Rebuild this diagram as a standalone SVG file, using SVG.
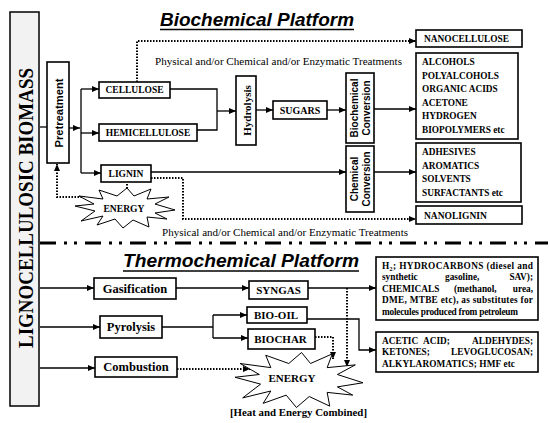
<svg xmlns="http://www.w3.org/2000/svg" width="550" height="423" viewBox="0 0 550 423">
<defs>
<style>
.box{fill:#fff;stroke:#000;stroke-width:1.6}
.t{font-family:'Liberation Serif','Times New Roman',serif;font-weight:bold;fill:#000}
.r{font-family:'Liberation Serif','Times New Roman',serif;font-weight:normal;fill:#000}
.s{font-family:'Liberation Sans',Arial,sans-serif;font-weight:bold;fill:#000}
.ttl{font-family:'Liberation Sans',Arial,sans-serif;font-weight:bold;font-style:italic;font-size:19px;fill:#000}
.ln{fill:none;stroke:#000;stroke-width:1.3}
.dt{fill:none;stroke:#000;stroke-width:2;stroke-dasharray:1.5 1.5}
.c{text-anchor:middle}
.e{text-anchor:end}
</style>
<marker id="arr" markerUnits="userSpaceOnUse" markerWidth="7" markerHeight="6" viewBox="0 0 7 6" refX="7" refY="3" orient="auto">
<path d="M0,0 L7,3 L0,6 z" fill="#000"/>
</marker>
<polygon id="burst" vector-effect="non-scaling-stroke" fill="#fff" stroke="#000" stroke-width="1" points="50,2 30,5 42,11 22,9 24,19 8,12 -2,20 -10,11 -28,17 -22,8 -44,13 -30,3 -50,-2 -31,-4 -46,-12 -22,-9 -26,-18 -8,-12 2,-20 9,-12 26,-19 22,-9 44,-11 30,-4"/>
</defs>
<rect width="550" height="423" fill="#fff"/>

<!-- titles -->
<g id="title-bio">
<text class="ttl" x="160" y="25.7" textLength="194" lengthAdjust="spacingAndGlyphs">Biochemical Platform</text>
<line x1="160" y1="29.5" x2="354" y2="29.5" stroke="#000" stroke-width="1.5"/>
</g>
<g id="title-thermo">
<text class="ttl" x="123" y="267" textLength="236" lengthAdjust="spacingAndGlyphs">Thermochemical Platform</text>
<line x1="123" y1="271" x2="359" y2="271" stroke="#000" stroke-width="1.5"/>
</g>

<!-- connectors -->
<g id="connectors">
<path class="ln" d="M40,127 H47"/>
<path class="ln" d="M69,128 H80" marker-end="url(#arr)"/>
<path class="ln" d="M81,89 V173"/>
<path class="ln" d="M81,89 H99" marker-end="url(#arr)"/>
<path class="ln" d="M81,133 H99" marker-end="url(#arr)"/>
<path class="ln" d="M81,173 H101" marker-end="url(#arr)"/>
<path class="ln" d="M170,89 H217 V130 H197"/>
<path class="ln" d="M217,111 H236" marker-end="url(#arr)"/>
<path class="ln" d="M256,110 H273" marker-end="url(#arr)"/>
<path class="ln" d="M327,110 H346" marker-end="url(#arr)"/>
<path class="ln" d="M374,109 H416" marker-end="url(#arr)"/>
<path class="ln" d="M151,172 H346" marker-end="url(#arr)"/>
<path class="ln" d="M374,172 H416" marker-end="url(#arr)"/>
<path class="dt" d="M137,82 V41 H416" marker-end="url(#arr)"/>
<path class="dt" d="M151,178 H183 V219 H416" marker-end="url(#arr)"/>
<path class="dt" d="M127,184 V200" marker-end="url(#arr)"/>
<path class="dt" d="M85,197 H57 V164" marker-end="url(#arr)"/>

<path d="M40,243 H548" fill="none" stroke="#000" stroke-width="3" stroke-dasharray="16 8 3 7 3 8"/>

<path class="ln" d="M40,288 H94" marker-end="url(#arr)"/>
<path class="ln" d="M176,288 H249" marker-end="url(#arr)"/>
<path class="ln" d="M308,288 H376" marker-end="url(#arr)"/>
<path class="dt" d="M347,288 V367" marker-end="url(#arr)"/>
<path class="ln" d="M40,327 H100" marker-end="url(#arr)"/>
<path class="ln" d="M162,327 H213 M213,315 V338"/>
<path class="ln" d="M213,315 H247" marker-end="url(#arr)"/>
<path class="ln" d="M213,338 H248" marker-end="url(#arr)"/>
<path class="ln" d="M307,319 H359 V350 H376" marker-end="url(#arr)"/>
<path class="dt" d="M315,337 H333 V359" marker-end="url(#arr)"/>
<path class="ln" d="M40,368 H95" marker-end="url(#arr)"/>
<path class="dt" d="M177,369 H250" marker-end="url(#arr)"/>
</g>

<!-- nodes -->
<g id="biomass">
<rect x="10" y="12" width="29" height="394" fill="#f2f2f2" stroke="#000" stroke-width="1.5"/>
<text class="t c" font-size="22" transform="translate(33,208) rotate(-90)" textLength="280" lengthAdjust="spacingAndGlyphs">LIGNOCELLULOSIC BIOMASS</text>
</g>
<g id="pretreatment">
<rect class="box" x="47" y="62" width="22" height="101"/>
<text class="s c" font-size="11" transform="translate(62.5,113) rotate(-90)" textLength="69" lengthAdjust="spacingAndGlyphs">Pretreatment</text>
</g>
<g id="cellulose">
<rect class="box" x="99" y="82" width="71" height="16"/>
<text class="t c" font-size="9.5" x="134.5" y="93.3">CELLULOSE</text>
</g>
<g id="hemicellulose">
<rect class="box" x="99" y="124" width="98" height="17"/>
<text class="t c" font-size="9.5" x="148" y="135.8">HEMICELLULOSE</text>
</g>
<g id="lignin">
<rect class="box" x="101" y="165" width="50" height="17" stroke-width="2.6"/>
<text class="t c" font-size="9.5" x="126" y="176.8">LIGNIN</text>
</g>
<g id="energy-top">
<use href="#burst" transform="translate(125,208)"/>
<text class="t c" font-size="9.6" x="124" y="212">ENERGY</text>
</g>
<g id="hydrolysis">
<rect class="box" x="236" y="76" width="20" height="69"/>
<text class="t c" font-size="11" transform="translate(250.5,110.5) rotate(-90)">Hydrolysis</text>
</g>
<g id="sugars">
<rect class="box" x="273" y="101" width="54" height="18"/>
<text class="t c" font-size="10" x="300" y="113.6">SUGARS</text>
</g>
<g id="biochemical-conversion">
<rect class="box" x="346" y="73" width="28" height="70"/>
<text class="s c" font-size="10" transform="translate(358,108) rotate(-90)">Biochemical</text>
<text class="s c" font-size="10" transform="translate(370,108) rotate(-90)">Conversion</text>
</g>
<g id="chemical-conversion">
<rect class="box" x="346" y="146" width="28" height="66"/>
<text class="s c" font-size="10" transform="translate(358,179) rotate(-90)">Chemical</text>
<text class="s c" font-size="10" transform="translate(370,179) rotate(-90)">Conversion</text>
</g>
<g id="nanocellulose">
<rect class="box" x="416" y="30" width="106" height="17"/>
<text class="t" font-size="9.5" x="424" y="42" textLength="85" lengthAdjust="spacingAndGlyphs">NANOCELLULOSE</text>
</g>
<g id="biochemical-products">
<rect class="box" x="416" y="53" width="102" height="86"/>
<text class="t" font-size="9.3" x="422" y="65">ALCOHOLS</text>
<text class="t" font-size="9.3" x="422" y="78.5">POLYALCOHOLS</text>
<text class="t" font-size="9.3" x="422" y="92">ORGANIC ACIDS</text>
<text class="t" font-size="9.3" x="422" y="105.5">ACETONE</text>
<text class="t" font-size="9.3" x="422" y="119">HYDROGEN</text>
<text class="t" font-size="9.3" x="422" y="132.5">BIOPOLYMERS etc</text>
</g>
<g id="chemical-products">
<rect class="box" x="416" y="143" width="105" height="59"/>
<text class="t" font-size="9.3" x="422" y="155">ADHESIVES</text>
<text class="t" font-size="9.3" x="422" y="168.5">AROMATICS</text>
<text class="t" font-size="9.3" x="422" y="182">SOLVENTS</text>
<text class="t" font-size="9.3" x="422" y="195.5">SURFACTANTS etc</text>
</g>
<g id="nanolignin">
<rect class="box" x="416" y="206" width="106" height="18"/>
<text class="t" font-size="9.5" x="424" y="219">NANOLIGNIN</text>
</g>
<g id="treatments-labels">
<text class="r" font-size="11" x="155" y="65" textLength="247" lengthAdjust="spacingAndGlyphs">Physical and/or Chemical and/or Enzymatic Treatments</text>
<text class="r" font-size="11" x="162" y="236" textLength="246" lengthAdjust="spacingAndGlyphs">Physical and/or Chemical and/or Enzymatic Treatments</text>
</g>

<g id="gasification">
<rect class="box" x="94" y="278" width="82" height="21"/>
<text class="t c" font-size="12.5" x="135" y="292.6">Gasification</text>
</g>
<g id="pyrolysis">
<rect class="box" x="100" y="316" width="62" height="22"/>
<text class="t c" font-size="12.5" x="131" y="331">Pyrolysis</text>
</g>
<g id="combustion">
<rect class="box" x="95" y="357" width="82" height="20"/>
<text class="t c" font-size="12.5" x="136" y="371.2">Combustion</text>
</g>
<g id="syngas">
<rect class="box" x="249" y="281" width="59" height="18"/>
<text class="t c" font-size="11" x="278.5" y="293.8">SYNGAS</text>
</g>
<g id="bio-oil">
<rect class="box" x="247" y="307" width="60" height="16"/>
<text class="t c" font-size="11" x="276" y="318.8">BIO-OIL</text>
</g>
<g id="biochar">
<rect class="box" x="248" y="329" width="67" height="20"/>
<text class="t c" font-size="11" x="280.5" y="342.8">BIOCHAR</text>
</g>
<g id="energy-bottom">
<use href="#burst" transform="translate(299,380) scale(1.28,1.375)"/>
<text class="t c" font-size="11" x="292" y="381.5">ENERGY</text>
<text class="t c" font-size="10.8" x="298.5" y="416" textLength="137" lengthAdjust="spacingAndGlyphs">[Heat and Energy Combined]</text>
</g>
<g id="syngas-products">
<rect class="box" x="376" y="257" width="162" height="63"/>
<text class="t" font-size="9.3" x="382" y="268.5" textLength="151" lengthAdjust="spacing">H<tspan font-size="6" dy="2">2</tspan><tspan dy="-2">; HYDROCARBONS (diesel and</tspan></text>
<text class="t" font-size="9.3" x="382" y="280">synthetic</text>
<text class="t" font-size="9.3" x="445" y="280">gasoline,</text>
<text class="t e" font-size="9.3" x="533" y="280">SAV);</text>
<text class="t" font-size="9.3" x="382" y="291.5">CHEMICALS</text>
<text class="t" font-size="9.3" x="454" y="291.5">(methanol,</text>
<text class="t e" font-size="9.3" x="533" y="291.5">urea,</text>
<text class="t" font-size="9.3" x="382" y="303" textLength="151" lengthAdjust="spacing">DME, MTBE etc), as substitutes for</text>
<text class="t" font-size="9.3" x="382" y="314.5" textLength="136" lengthAdjust="spacing">molecules produced from petroleum</text>
</g>
<g id="oil-products">
<rect class="box" x="376" y="332" width="162" height="40"/>
<text class="t" font-size="9.3" x="382" y="343.5">ACETIC</text>
<text class="t" font-size="9.3" x="423" y="343.5">ACID;</text>
<text class="t e" font-size="9.3" x="533" y="343.5">ALDEHYDES;</text>
<text class="t" font-size="9.3" x="382" y="355">KETONES;</text>
<text class="t e" font-size="9.3" x="533" y="355">LEVOGLUCOSAN;</text>
<text class="t" font-size="9.3" x="382" y="366.5" textLength="133" lengthAdjust="spacing">ALKYLAROMATICS; HMF etc</text>
</g>
</svg>
